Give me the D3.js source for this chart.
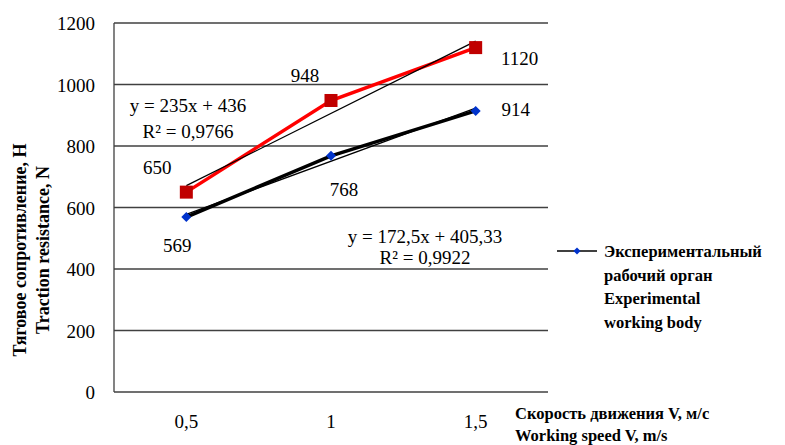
<!DOCTYPE html>
<html><head><meta charset="utf-8">
<script src="https://cdn.jsdelivr.net/npm/d3@7"></script>
<style>
body{margin:0;background:#fff}
#wrap{position:relative;width:785px;height:445px}
#c{position:absolute;left:0;top:0}
.t{position:absolute;color:#000;white-space:nowrap;line-height:1}
</style>
</head><body>
<div id="wrap"><svg id="c" width="785" height="445"></svg></div>
<script>
const categories = ["0,5", "1", "1,5"];
const seriesRed = [650, 948, 1120];
const seriesBlack = [569, 768, 914];
const yTicks = [0, 200, 400, 600, 800, 1000, 1200];
const trendRed = {slope: 235, intercept: 436, eq: "y = 235x + 436", r2: "R² = 0,9766"};
const trendBlack = {slope: 172.5, intercept: 405.33, eq: "y = 172,5x + 405,33", r2: "R² = 0,9922"};
const yTitle = ["Тяговое сопротивление, Н", "Traction resistance, N"];
const xTitle = ["Скорость движения V, м/с", "Working speed V, m/s"];
const legendText = ["Экспериментальный", "рабочий орган", "Experimental", "working body"];

const svg = d3.select("#c");
const wrap = d3.select("#wrap");
const L = 114, R = 548, T = 23, B = 392;
const x = d3.scaleBand().domain(categories).range([L, R]);
const y = d3.scaleLinear().domain([0, 1200]).range([B, T]);
const cx = c => x(c) + x.bandwidth() / 2;

function label(px, py, s, opts = {}) {
  const size = opts.size || 19, anchor = opts.anchor || "middle";
  const tx = anchor === "middle" ? "-50%" : anchor === "end" ? "-100%" : "0";
  let tr = `translate(${tx},-50%)`;
  if (opts.rotate) tr = `translate(-50%,-50%) rotate(${opts.rotate}deg)`;
  const el = document.createElement("div");
  el.className = "t";
  el.style.fontFamily = "'Liberation Serif'";
  el.style.left = px + "px";
  el.style.top = py + "px";
  el.style.fontSize = size + "px";
  el.style.fontWeight = opts.bold ? "bold" : "normal";
  el.style.transform = tr;
  el.textContent = s;
  wrap.node().appendChild(el);
}

svg.append("g").selectAll("line").data(yTicks).join("line")
  .attr("x1", L).attr("x2", R).attr("y1", d => y(d)).attr("y2", d => y(d))
  .attr("stroke", "#404040").attr("stroke-width", 1.3);
svg.append("line").attr("x1", L).attr("x2", L).attr("y1", T).attr("y2", B)
  .attr("stroke", "#404040").attr("stroke-width", 1.3);

yTicks.forEach(d => label(95, y(d), String(d), {anchor: "end"}));
categories.forEach(c => label(cx(c), 421, c));

const line = d3.line().x((d, i) => cx(categories[i])).y(d => y(d));
svg.append("path").datum(seriesBlack).attr("d", line).attr("fill", "none")
  .attr("stroke", "#000").attr("stroke-width", 3.5);
svg.append("path").datum(seriesRed).attr("d", line).attr("fill", "none")
  .attr("stroke", "#ff0000").attr("stroke-width", 3.5);

function trend(t) {
  svg.append("line")
    .attr("x1", cx(categories[0])).attr("x2", cx(categories[2]))
    .attr("y1", y(t.slope * 1 + t.intercept)).attr("y2", y(t.slope * 3 + t.intercept))
    .attr("stroke", "#000").attr("stroke-width", 1.3);
}
trend(trendRed);
trend(trendBlack);

svg.append("g").selectAll("rect").data(seriesRed).join("rect")
  .attr("x", (d, i) => cx(categories[i]) - 6.5).attr("y", d => y(d) - 6.5)
  .attr("width", 13).attr("height", 13).attr("fill", "#c00000");
const diamond = d3.symbol().type(d3.symbolSquare).size(50);
svg.append("g").selectAll("path").data(seriesBlack).join("path")
  .attr("d", diamond)
  .attr("transform", (d, i) => `translate(${cx(categories[i])},${y(d)}) rotate(45)`)
  .attr("fill", "#0033cc");

const redLab = [[-29, -25], [-26, -25], [44, 10]];
seriesRed.forEach((d, i) => label(cx(categories[i]) + redLab[i][0], y(d) + redLab[i][1], String(d)));
const blkLab = [[-9, 28], [13, 33], [40, -2]];
seriesBlack.forEach((d, i) => label(cx(categories[i]) + blkLab[i][0], y(d) + blkLab[i][1], String(d)));

label(188, 105, trendRed.eq);
label(188, 131, trendRed.r2);
label(425, 236, trendBlack.eq);
label(425, 257, trendBlack.r2);

yTitle.forEach((t, i) => label(20 + i * 23, 250, t, {rotate: -90, bold: true, size: 18}));
xTitle.forEach((t, i) => label(515, 414 + i * 22, t, {anchor: "start", bold: true, size: 16.5}));

svg.append("line").attr("x1", 557).attr("x2", 597).attr("y1", 251).attr("y2", 251).attr("stroke", "#000").attr("stroke-width", 1.5);
svg.append("path").attr("d", d3.symbol().type(d3.symbolSquare).size(25)).attr("transform", "translate(577,251) rotate(45)").attr("fill", "#0033cc");
legendText.forEach((t, i) => label(604, 252 + i * 23.5, t, {anchor: "start", bold: true, size: 16.5}));
</script>
</body></html>
